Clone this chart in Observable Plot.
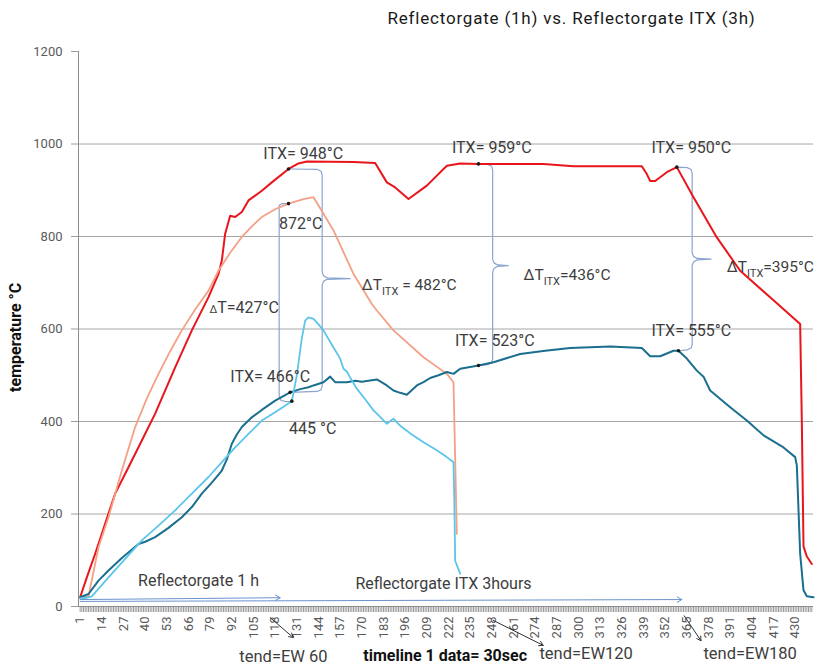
<!DOCTYPE html>
<html><head><meta charset="utf-8">
<script src="https://cdn.jsdelivr.net/npm/d3@7"></script>
<script src="https://cdn.jsdelivr.net/npm/@observablehq/plot@0.6"></script>
<style>
body{margin:0;background:#fff;font-family:Roboto,sans-serif;}
#title{height:34px;line-height:36px;width:815px;box-sizing:border-box;padding-left:328px;text-align:center;font-size:17px;letter-spacing:0.8px;color:#1a1a1a;font-weight:400;white-space:nowrap;}
</style></head><body>
<div id="title">Reflectorgate (1h) vs. Reflectorgate ITX (3h)</div>
<div id="chart"></div>
<script>
// ---- tick labels ----
const xTickLabels = [1,14,27,40,53,66,79,92,105,118,131,144,157,170,183,196,209,222,235,248,261,274,287,300,313,326,339,352,365,378,391,404,417,430];
const yTicks = [0,200,400,600,800,1000,1200];
const yGrid = [200,400,600,800,1000];

// ---- series (x = data point index, y = °C) ----
const itxHot = [[1,20],[5,63],[10,114],[18,201],[22,244],[30,301],[38,359],[46,417],[58,517],[68,597],[78,669],[84,719],[86,748],[88,806],[91,845],[94,842],[98,853],[102,878],[110,899],[116,917],[126,946],[132,958],[137,962],[165,961],[178,959],[185,917],[190,906],[198,881],[209,910],[221,953],[229,958],[240,957],[279,957],[297,952],[338,952],[341,935],[343,920],[346,920],[353,939],[359,950],[369,885],[383,798],[397,726],[417,662],[433,611],[434,400],[435,130],[437,108],[440,92]];
const oneHHot = [[1,18],[6,22],[12,128],[18,193],[26,294],[34,388],[41,450],[48,503],[55,552],[62,597],[70,642],[78,683],[84,726],[91,765],[98,799],[104,822],[110,842],[118,859],[126,871],[135,881],[141,885],[147,849],[153,813],[165,719],[176,654],[179,640],[189,597],[207,539],[221,503],[225,485],[227,157]];
const itxCold = [[1,20],[6,27],[12,56],[18,78],[26,105],[36,135],[40,140],[46,150],[54,170],[62,193],[68,215],[74,244],[80,268],[86,294],[89,318],[92,352],[95,372],[98,388],[104,409],[110,425],[118,445],[127,463],[133,470],[138,474],[141,478],[147,485],[151,497],[154,485],[161,485],[166,488],[170,486],[179,491],[185,478],[189,467],[193,462],[197,458],[203,478],[207,485],[211,494],[216,500],[221,507],[225,503],[229,514],[240,521],[249,528],[265,546],[280,553],[295,559],[319,562],[338,559],[343,541],[349,541],[357,553],[360,553],[365,536],[371,510],[375,497],[379,467],[391,431],[401,402],[411,370],[423,344],[430,323],[431,305],[433,114],[435,35],[437,22],[441,20]];
const oneHCold = [[1,18],[4,18],[8,22],[18,63],[28,103],[38,143],[48,175],[58,208],[68,244],[78,280],[86,312],[94,344],[102,373],[110,402],[118,420],[128,444],[131,500],[134,580],[136,618],[138,625],[141,622],[144,610],[147,597],[152,566],[157,536],[159,514],[161,508],[163,495],[167,471],[172,448],[177,424],[181,410],[185,395],[189,406],[191,398],[193,391],[200,372],[207,355],[214,340],[221,323],[225,312],[225.5,229],[226,99],[229,71]];

// ---- marked points ----
const dotX = [126,126,127,128,240,240,359,360];
const dotY = [946,871,463,444,957,521,950,553];

// ---- annotations ----
const annoText = ["ITX= 948°C","872°C","ITX= 959°C","ITX= 950°C","ITX= 523°C","ITX= 555°C","ITX= 466°C","445 °C","Reflectorgate 1 h","Reflectorgate ITX 3hours","~{Δ}T=427°C"];
const annoX = [134.8,133.3,248,367.7,249.8,367.7,115,140.5,72,219,99.4];
const annoY = [979,828,992,992,575,597,496,384,56,48,646];
const dtText = ["ΔT_{ITX} = 482°C","ΔT_{ITX}=436°C","ΔT_{ITX}=395°C"];
const dtX = [170,267,389];
const dtY = [696,716,734];

// braces: dot x at top, top value, vertical x, tip x, tip value, dot x at bottom, bottom value
const braceTopX = [126.4,240,359];
const braceTop = [946,957,950];
const braceVX = [146.2,248.5,368.2];
const braceTipX = [163,257.8,379.5];
const braceTip = [709,737,751];
const braceBotX = [127,240,360];
const braceBot = [463,521,553];
// ΔT=427 bracket
const bracket1 = {topX:126.4, top:871, vx:120.4, botX:127.6, bot:443};

// arrows inside plot (run lengths)
const runArrowX1 = [1,1], runArrowY1 = [15,11], runArrowX2 = [121,362], runArrowY2 = [19,15];
// tend arrows under axis
const tendArrowX1 = [115,248.8,363.4], tendArrowY1 = [-24,-30,-20], tendArrowX2 = [128.8,278.8,373.5], tendArrowY2 = [-67,-84,-74];
const tendText = ["tend=EW 60","tend=EW120","tend=EW180"];
const tendX = [123,304.6,403];
const tendY = [-109,-102,-102];
const xTitle = "timeline 1 data= 30sec";
const yTitle = "temperature °C";

// ---- build ----
const series = [
  {name:"ITX hot", pts: itxHot, color:"#e8161c", w:2},
  {name:"1h hot", pts: oneHHot, color:"#f4a086", w:1.8},
  {name:"ITX cold", pts: itxCold, color:"#1b6f8e", w:2},
  {name:"1h cold", pts: oneHCold, color:"#5cc5ea", w:1.8}
];

function bracePts(i){
  const x0=braceTopX[i], yT=braceTop[i], xv=braceVX[i], xt=braceTipX[i], ym=braceTip[i], x1=braceBotX[i], yB=braceBot[i];
  return [[x0,yT],[xv-3,yT-1],[xv-0.6,yT-5],[xv,yT-14],[xv,ym+14],[xv+0.8,ym+6],[xv+3,ym+1.5],[xt,ym],[xv+3,ym-1.5],[xv+0.8,ym-6],[xv,ym-14],[xv,yB+14],[xv-0.6,yB+6],[xv-3,yB+2],[x1,yB]];
}
const braceData = [0,1,2].flatMap(i => bracePts(i).map(p => ({x:p[0], y:p[1], k:i})));
const b1 = bracket1;
const bracket1Pts = [[b1.topX,b1.top],[b1.vx+1.5,b1.top],[b1.vx,b1.top-4],[b1.vx,b1.bot+12],[b1.vx+1,b1.bot+3],[b1.vx+4,b1.bot],[b1.botX,b1.bot]];

const lineMarks = series.map(s => Plot.line(s.pts, {x: d=>d[0], y: d=>d[1], stroke: s.color, strokeWidth: s.w, strokeLinejoin:"round"}));
const idx = a => a.map((_,i)=>i);

const chart = Plot.plot({
  width: 815, height: 632,
  marginLeft: 78, marginRight: 2, marginTop: 17, marginBottom: 60,
  x: {domain: [0, 441], axis: null},
  y: {domain: [0, 1200], axis: null},
  style: {fontFamily: "Roboto, sans-serif", fontSize: "13px", background: "white", overflow: "visible"},
  marks: [
    Plot.ruleY(yGrid, {stroke: "#a6a6a6", strokeWidth: 1}),
    Plot.axisX({ticks: d3.range(1, 441), tickSize: 6, tickPadding: 4, tickRotate: -90, tickFormat: d => xTickLabels.includes(d) ? String(d) : "", label: null, color: "#5a5a5a", fontSize: 13, strokeOpacity: 0.6}),
    Plot.axisY({ticks: yTicks, tickSize: 7, tickPadding: 9, tickFormat: d => String(d), label: null, color: "#5a5a5a", fontSize: 13, strokeOpacity: 0.6}),
    Plot.ruleX([0], {stroke: "#8c8c8c"}),
    Plot.ruleY([0], {stroke: "#8c8c8c"}),
    Plot.line(braceData, {x:"x", y:"y", z:"k", stroke:"#8aa5cf", strokeWidth:1.2}),
    Plot.line(bracket1Pts, {x:d=>d[0], y:d=>d[1], stroke:"#8aa5cf", strokeWidth:1.2}),
    Plot.arrow(idx(runArrowX1), {x1:i=>runArrowX1[i], y1:i=>runArrowY1[i], x2:i=>runArrowX2[i], y2:i=>runArrowY2[i], stroke:"#6a93cc", strokeWidth:1, headLength:8}),
    ...lineMarks,
    Plot.dot(idx(dotX), {x:i=>dotX[i], y:i=>dotY[i], r:1.8, fill:"#1a1a1a"}),
    Plot.text(annoText, {x:(d,i)=>annoX[i], y:(d,i)=>annoY[i], text:d=>d, fontSize:16, fill:"#3d3d3d"}),
    Plot.text(dtText, {x:(d,i)=>dtX[i], y:(d,i)=>dtY[i], text:d=>d, fontSize:15.5, fill:"#3d3d3d", textAnchor:"start"}),
    Plot.arrow(idx(tendArrowX1), {x1:i=>tendArrowX1[i], y1:i=>tendArrowY1[i], x2:i=>tendArrowX2[i], y2:i=>tendArrowY2[i], stroke:"#333", strokeWidth:1, headLength:7}),
    Plot.text(tendText, {x:(d,i)=>tendX[i], y:(d,i)=>tendY[i], text:d=>d, fontSize:16.5, fill:"#3d3d3d"}),
    Plot.text([xTitle], {x:220, y:-106, text:d=>d, fontSize:16, fontWeight:"bold", fill:"#111"}),
    Plot.text([yTitle], {x:-37.4, y:582, text:d=>d, fontSize:16, fontWeight:"bold", fill:"#111", rotate:-90})
  ]
});

// rich text: _{sub} subscript, ~{x} small
const NS = "http://www.w3.org/2000/svg";
chart.querySelectorAll("text").forEach(t => {
  const s = t.textContent;
  if (!/[_~]\{/.test(s)) return;
  const parts = s.split(/([_~]\{[^}]*\})/).filter(p => p.length);
  while (t.firstChild) t.removeChild(t.firstChild);
  let shift = 0;
  parts.forEach(p => {
    const sp = document.createElementNS(NS, "tspan");
    if (p.startsWith("_{")) {
      sp.textContent = p.slice(2, -1);
      sp.setAttribute("font-size", "11");
      sp.setAttribute("dy", String(5 - shift)); shift = 5;
    } else if (p.startsWith("~{")) {
      sp.textContent = p.slice(2, -1);
      sp.setAttribute("font-size", "11");
      if (shift) { sp.setAttribute("dy", String(-shift)); shift = 0; }
    } else {
      sp.textContent = p;
      if (shift) { sp.setAttribute("dy", String(-shift)); shift = 0; }
    }
    t.appendChild(sp);
  });
});
document.getElementById("chart").appendChild(chart);
</script>
</body></html>
